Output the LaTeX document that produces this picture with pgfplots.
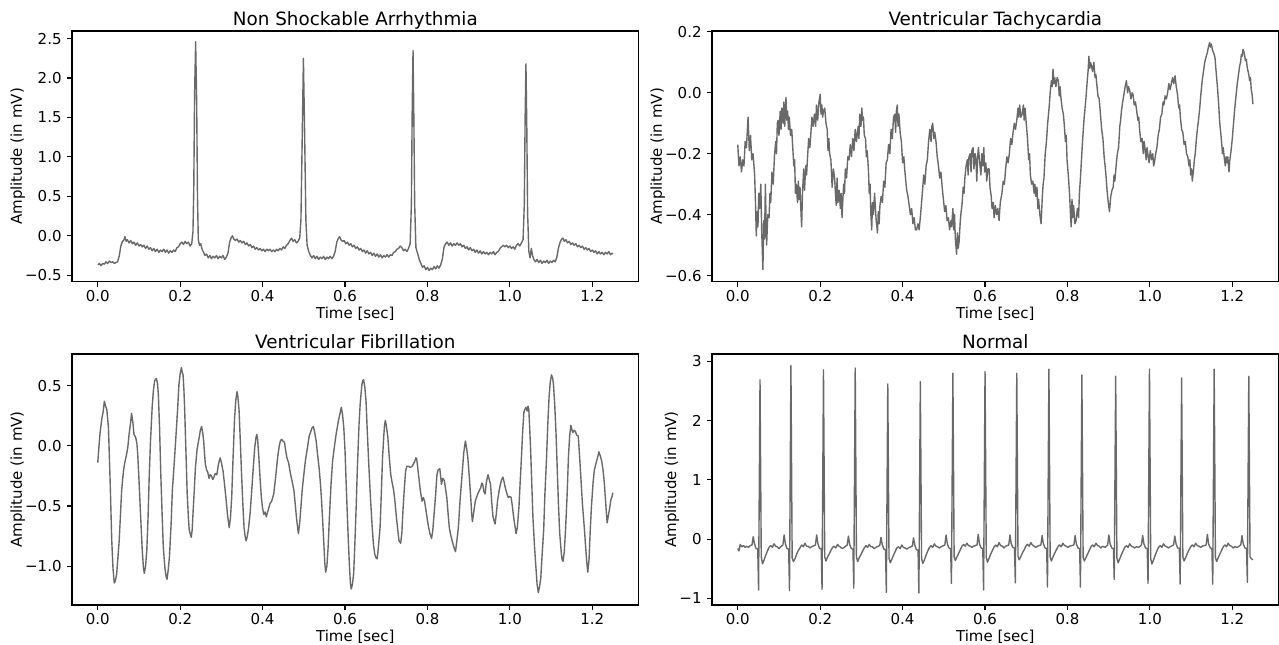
\documentclass[border=0pt]{standalone}
\usepackage{fontspec}
\setmainfont{DejaVu Sans}
\usepackage{pgfplots}
\pgfplotsset{compat=1.18}
\definecolor{sig}{HTML}{696969}

\pgfplotsset{
  ecg/.style={
    scale only axis, width=408pt, height=180.7pt,
    axis line style={line width=0.8pt},
    tick align=outside, tick pos=left,
    major tick length=3.5pt,
    every tick/.style={line width=0.8pt, black},
    tick label style={font=\fontsize{10.8}{13}\selectfont},
    xticklabel style={inner sep=0pt, yshift=-2.2pt},
    yticklabel style={inner sep=0pt, xshift=-3.8pt},
    label style={font=\fontsize{10.8}{13}\selectfont},
    xlabel style={inner sep=0pt, yshift=-3.8pt},
    ylabel style={inner sep=0pt},
    title style={font=\fontsize{13.2}{15}\selectfont, anchor=base, inner sep=0pt, yshift=-1.9pt},
    xmin=-0.0625, xmax=1.3125,
    xtick={0,0.2,0.4,0.6,0.8,1.0,1.2},
    xticklabels={0.0,0.2,0.4,0.6,0.8,1.0,1.2},
    xlabel={Time [sec]}, ylabel={Amplitude (in mV)},
  },
  sigline/.style={sig, line width=1pt, line join=round, mark=none},
}

\begin{document}
\begin{tikzpicture}
\useasboundingbox (-51.84pt,-28.08pt) rectangle (869.04pt,435.6pt);

% top left
\begin{axis}[ecg, at={(0pt,232.6pt)}, title={Non Shockable Arrhythmia},
  ymin=-0.585, ymax=2.597,
  ytick={-0.5,0,0.5,1,1.5,2,2.5},
  yticklabels={−0.5,0.0,0.5,1.0,1.5,2.0,2.5}]
\addplot[sigline] coordinates {
(0.000,-0.37)(0.004,-0.35)(0.008,-0.38)(0.012,-0.35)(0.016,-0.36)(0.020,-0.33)(0.024,-0.35)(0.028,-0.32)(0.032,-0.34)(0.036,-0.33)(0.040,-0.35)(0.044,-0.34)(0.048,-0.33)(0.052,-0.26)(0.056,-0.13)(0.060,-0.07)(0.063,-0.06)(0.066,-0.01)(0.069,-0.07)(0.072,-0.05)(0.076,-0.09)(0.080,-0.06)(0.084,-0.10)(0.088,-0.08)(0.092,-0.12)(0.096,-0.09)(0.100,-0.13)(0.104,-0.11)(0.108,-0.14)(0.112,-0.12)(0.116,-0.16)(0.120,-0.13)(0.124,-0.17)(0.128,-0.15)(0.132,-0.19)(0.136,-0.16)(0.140,-0.20)(0.144,-0.17)(0.148,-0.21)(0.152,-0.18)(0.156,-0.20)(0.160,-0.17)(0.164,-0.21)(0.168,-0.18)(0.172,-0.22)(0.176,-0.19)(0.180,-0.21)(0.184,-0.18)(0.188,-0.20)(0.192,-0.15)(0.196,-0.14)(0.200,-0.10)(0.204,-0.08)(0.208,-0.11)(0.212,-0.07)(0.216,-0.10)(0.220,-0.08)(0.224,-0.13)(0.228,-0.10)(0.231,0.05)(0.233,0.6)(0.235,1.8)(0.2375,2.46)(0.240,1.7)(0.242,0.5)(0.244,-0.05)(0.247,-0.12)(0.250,-0.10)(0.253,-0.17)(0.256,-0.20)(0.260,-0.25)(0.264,-0.23)(0.268,-0.28)(0.272,-0.25)(0.276,-0.29)(0.280,-0.26)(0.284,-0.28)(0.288,-0.25)(0.292,-0.29)(0.296,-0.26)(0.300,-0.28)(0.304,-0.25)(0.308,-0.30)(0.312,-0.27)(0.316,-0.22)(0.320,-0.08)(0.324,-0.02)(0.327,0.00)(0.330,-0.04)(0.334,-0.06)(0.338,-0.04)(0.342,-0.08)(0.346,-0.06)(0.350,-0.09)(0.354,-0.07)(0.358,-0.11)(0.362,-0.09)(0.366,-0.13)(0.370,-0.11)(0.374,-0.15)(0.378,-0.13)(0.382,-0.17)(0.386,-0.15)(0.390,-0.18)(0.394,-0.16)(0.398,-0.19)(0.402,-0.17)(0.406,-0.20)(0.410,-0.17)(0.414,-0.19)(0.418,-0.17)(0.422,-0.20)(0.426,-0.18)(0.430,-0.20)(0.434,-0.17)(0.438,-0.19)(0.442,-0.16)(0.446,-0.18)(0.450,-0.14)(0.454,-0.16)(0.458,-0.12)(0.462,-0.10)(0.466,-0.06)(0.470,-0.03)(0.474,-0.07)(0.478,-0.05)(0.482,-0.09)(0.486,-0.07)(0.490,-0.03)(0.493,0.2)(0.496,1.2)(0.499,2.25)(0.502,1.3)(0.505,0.2)(0.508,-0.12)(0.512,-0.20)(0.516,-0.25)(0.520,-0.28)(0.524,-0.25)(0.528,-0.29)(0.532,-0.26)(0.536,-0.30)(0.540,-0.27)(0.544,-0.29)(0.548,-0.26)(0.552,-0.30)(0.556,-0.27)(0.560,-0.29)(0.564,-0.26)(0.568,-0.29)(0.572,-0.26)(0.576,-0.20)(0.580,-0.08)(0.584,-0.03)(0.587,-0.01)(0.590,-0.05)(0.594,-0.07)(0.598,-0.06)(0.602,-0.10)(0.606,-0.08)(0.610,-0.12)(0.614,-0.10)(0.618,-0.14)(0.622,-0.12)(0.626,-0.16)(0.630,-0.14)(0.634,-0.18)(0.638,-0.16)(0.642,-0.20)(0.646,-0.18)(0.650,-0.22)(0.654,-0.19)(0.658,-0.23)(0.662,-0.21)(0.666,-0.25)(0.670,-0.22)(0.674,-0.26)(0.678,-0.23)(0.682,-0.27)(0.686,-0.24)(0.690,-0.28)(0.694,-0.25)(0.698,-0.27)(0.702,-0.24)(0.706,-0.27)(0.710,-0.24)(0.714,-0.25)(0.718,-0.21)(0.722,-0.20)(0.726,-0.17)(0.730,-0.16)(0.734,-0.13)(0.738,-0.15)(0.742,-0.19)(0.746,-0.17)(0.750,-0.20)(0.754,-0.16)(0.758,-0.10)(0.761,0.4)(0.763,1.6)(0.765,2.35)(0.767,1.5)(0.769,0.4)(0.772,-0.15)(0.776,-0.22)(0.780,-0.30)(0.784,-0.35)(0.788,-0.40)(0.792,-0.38)(0.796,-0.43)(0.800,-0.40)(0.804,-0.44)(0.808,-0.41)(0.812,-0.43)(0.816,-0.39)(0.820,-0.42)(0.824,-0.38)(0.828,-0.41)(0.832,-0.37)(0.836,-0.30)(0.840,-0.15)(0.844,-0.10)(0.848,-0.08)(0.852,-0.12)(0.856,-0.09)(0.860,-0.13)(0.864,-0.10)(0.868,-0.12)(0.872,-0.09)(0.876,-0.12)(0.880,-0.10)(0.884,-0.14)(0.888,-0.12)(0.892,-0.16)(0.896,-0.14)(0.900,-0.18)(0.904,-0.15)(0.908,-0.19)(0.912,-0.17)(0.916,-0.21)(0.920,-0.18)(0.924,-0.22)(0.928,-0.19)(0.932,-0.23)(0.936,-0.20)(0.940,-0.23)(0.944,-0.21)(0.948,-0.24)(0.952,-0.21)(0.956,-0.23)(0.960,-0.20)(0.964,-0.24)(0.968,-0.21)(0.972,-0.20)(0.976,-0.16)(0.980,-0.14)(0.984,-0.12)(0.988,-0.14)(0.992,-0.12)(0.996,-0.15)(1.000,-0.13)(1.004,-0.16)(1.008,-0.14)(1.012,-0.17)(1.016,-0.12)(1.020,-0.10)(1.024,-0.13)(1.028,-0.09)(1.032,-0.05)(1.035,0.4)(1.037,1.5)(1.039,2.18)(1.041,1.4)(1.043,0.3)(1.046,-0.20)(1.049,-0.28)(1.052,-0.16)(1.055,-0.25)(1.058,-0.30)(1.062,-0.33)(1.066,-0.30)(1.070,-0.34)(1.074,-0.31)(1.078,-0.35)(1.082,-0.32)(1.086,-0.34)(1.090,-0.31)(1.094,-0.35)(1.098,-0.32)(1.102,-0.34)(1.106,-0.31)(1.110,-0.33)(1.114,-0.27)(1.118,-0.15)(1.122,-0.08)(1.126,-0.04)(1.129,-0.03)(1.132,-0.07)(1.136,-0.05)(1.140,-0.09)(1.144,-0.07)(1.148,-0.11)(1.152,-0.09)(1.156,-0.12)(1.160,-0.10)(1.164,-0.14)(1.168,-0.12)(1.172,-0.15)(1.176,-0.13)(1.180,-0.17)(1.184,-0.15)(1.188,-0.18)(1.192,-0.16)(1.196,-0.20)(1.200,-0.18)(1.204,-0.21)(1.208,-0.19)(1.212,-0.23)(1.216,-0.20)(1.220,-0.23)(1.224,-0.21)(1.228,-0.24)(1.232,-0.21)(1.236,-0.23)(1.240,-0.20)(1.244,-0.24)(1.248,-0.22)(1.250,-0.23)
};
\end{axis}

% top right
\begin{axis}[ecg, at={(460.8pt,232.6pt)}, title={Ventricular Tachycardia},
  ymin=-0.621, ymax=0.203,
  ytick={-0.6,-0.4,-0.2,0,0.2},
  yticklabels={−0.6,−0.4,−0.2,0.0,0.2}]
\addplot[sigline] coordinates {
(0.000,-0.17)(0.003,-0.24)(0.006,-0.21)(0.009,-0.26)(0.012,-0.22)(0.015,-0.24)(0.018,-0.16)(0.021,-0.18)(0.025,-0.08)(0.028,-0.19)(0.031,-0.14)(0.034,-0.22)(0.037,-0.20)(0.041,-0.27)(0.043,-0.36)(0.045,-0.47)(0.047,-0.39)(0.049,-0.44)(0.051,-0.33)(0.053,-0.38)(0.056,-0.30)(0.058,-0.45)(0.061,-0.58)(0.063,-0.42)(0.065,-0.48)(0.067,-0.30)(0.070,-0.50)(0.073,-0.40)(0.076,-0.41)(0.078,-0.33)(0.080,-0.36)(0.083,-0.26)(0.086,-0.30)(0.089,-0.21)(0.092,-0.16)(0.094,-0.20)(0.096,-0.10)(0.098,-0.09)(0.100,-0.14)(0.103,-0.06)(0.105,-0.12)(0.107,-0.05)(0.110,-0.10)(0.112,-0.03)(0.114,-0.11)(0.117,-0.015)(0.119,-0.09)(0.121,-0.06)(0.123,-0.12)(0.125,-0.08)(0.128,-0.14)(0.131,-0.12)(0.133,-0.17)(0.136,-0.24)(0.138,-0.22)(0.140,-0.33)(0.142,-0.30)(0.145,-0.36)(0.147,-0.29)(0.149,-0.35)(0.151,-0.31)(0.153,-0.38)(0.155,-0.44)(0.157,-0.33)(0.160,-0.25)(0.162,-0.32)(0.165,-0.24)(0.167,-0.27)(0.169,-0.22)(0.172,-0.15)(0.175,-0.18)(0.178,-0.12)(0.180,-0.08)(0.183,-0.11)(0.186,-0.07)(0.189,-0.11)(0.191,-0.04)(0.194,-0.09)(0.197,-0.03)(0.200,-0.005)(0.202,-0.07)(0.204,-0.04)(0.206,-0.08)(0.208,-0.06)(0.211,-0.05)(0.214,-0.10)(0.217,-0.12)(0.219,-0.19)(0.221,-0.15)(0.223,-0.20)(0.226,-0.22)(0.229,-0.31)(0.232,-0.25)(0.235,-0.28)(0.237,-0.33)(0.239,-0.37)(0.241,-0.28)(0.243,-0.36)(0.246,-0.32)(0.249,-0.38)(0.251,-0.33)(0.253,-0.41)(0.255,-0.35)(0.257,-0.30)(0.259,-0.33)(0.261,-0.25)(0.264,-0.28)(0.267,-0.21)(0.270,-0.22)(0.273,-0.17)(0.276,-0.21)(0.279,-0.15)(0.282,-0.19)(0.285,-0.12)(0.288,-0.16)(0.292,-0.11)(0.294,-0.15)(0.296,-0.07)(0.299,-0.11)(0.301,-0.05)(0.303,-0.09)(0.305,-0.08)(0.307,-0.14)(0.310,-0.15)(0.312,-0.21)(0.314,-0.19)(0.317,-0.25)(0.319,-0.33)(0.321,-0.30)(0.323,-0.40)(0.325,-0.45)(0.327,-0.36)(0.329,-0.40)(0.332,-0.33)(0.334,-0.38)(0.336,-0.42)(0.339,-0.46)(0.341,-0.39)(0.343,-0.43)(0.345,-0.37)(0.348,-0.34)(0.351,-0.36)(0.354,-0.29)(0.357,-0.31)(0.360,-0.23)(0.363,-0.22)(0.366,-0.17)(0.369,-0.20)(0.372,-0.12)(0.375,-0.15)(0.378,-0.08)(0.381,-0.07)(0.383,-0.13)(0.385,-0.06)(0.387,-0.04)(0.389,-0.11)(0.391,-0.07)(0.394,-0.13)(0.397,-0.16)(0.400,-0.23)(0.403,-0.21)(0.405,-0.25)(0.407,-0.28)(0.410,-0.32)(0.413,-0.34)(0.416,-0.37)(0.419,-0.40)(0.422,-0.38)(0.425,-0.43)(0.428,-0.41)(0.431,-0.45)(0.434,-0.45)(0.437,-0.43)(0.440,-0.45)(0.443,-0.41)(0.446,-0.36)(0.449,-0.31)(0.451,-0.27)(0.454,-0.30)(0.457,-0.24)(0.460,-0.22)(0.463,-0.16)(0.466,-0.12)(0.469,-0.16)(0.471,-0.11)(0.473,-0.10)(0.476,-0.15)(0.478,-0.13)(0.481,-0.16)(0.484,-0.21)(0.487,-0.24)(0.490,-0.28)(0.493,-0.26)(0.496,-0.31)(0.499,-0.35)(0.502,-0.39)(0.505,-0.37)(0.508,-0.42)(0.511,-0.41)(0.514,-0.45)(0.517,-0.42)(0.519,-0.44)(0.522,-0.38)(0.524,-0.45)(0.526,-0.40)(0.528,-0.48)(0.531,-0.53)(0.533,-0.46)(0.535,-0.51)(0.537,-0.49)(0.540,-0.42)(0.542,-0.39)(0.544,-0.37)(0.547,-0.31)(0.549,-0.33)(0.551,-0.28)(0.554,-0.24)(0.557,-0.22)(0.559,-0.27)(0.561,-0.21)(0.564,-0.20)(0.566,-0.26)(0.568,-0.19)(0.571,-0.18)(0.573,-0.25)(0.576,-0.20)(0.578,-0.22)(0.580,-0.29)(0.582,-0.21)(0.584,-0.18)(0.587,-0.23)(0.590,-0.27)(0.592,-0.20)(0.594,-0.24)(0.597,-0.18)(0.599,-0.26)(0.602,-0.23)(0.604,-0.29)(0.607,-0.25)(0.610,-0.25)(0.612,-0.31)(0.615,-0.34)(0.617,-0.38)(0.620,-0.36)(0.622,-0.41)(0.625,-0.37)(0.628,-0.40)(0.631,-0.38)(0.634,-0.42)(0.637,-0.36)(0.641,-0.33)(0.644,-0.29)(0.647,-0.30)(0.650,-0.25)(0.653,-0.21)(0.656,-0.23)(0.659,-0.20)(0.662,-0.15)(0.665,-0.17)(0.668,-0.13)(0.671,-0.10)(0.674,-0.12)(0.677,-0.09)(0.680,-0.05)(0.682,-0.08)(0.684,-0.04)(0.687,-0.08)(0.690,-0.07)(0.693,-0.04)(0.695,-0.09)(0.697,-0.05)(0.700,-0.10)(0.703,-0.15)(0.706,-0.22)(0.708,-0.20)(0.710,-0.27)(0.713,-0.30)(0.716,-0.29)(0.719,-0.33)(0.721,-0.30)(0.723,-0.34)(0.726,-0.31)(0.728,-0.38)(0.730,-0.35)(0.733,-0.40)(0.736,-0.43)(0.739,-0.34)(0.741,-0.30)(0.743,-0.28)(0.746,-0.20)(0.749,-0.16)(0.752,-0.10)(0.754,-0.07)(0.756,-0.04)(0.758,0.00)(0.761,0.04)(0.763,0.02)(0.765,0.078)(0.767,0.03)(0.769,0.05)(0.772,0.02)(0.775,0.05)(0.778,0.04)(0.780,-0.01)(0.782,0.02)(0.784,-0.015)(0.787,-0.05)(0.790,-0.07)(0.792,-0.10)(0.795,-0.16)(0.797,-0.14)(0.799,-0.22)(0.802,-0.27)(0.805,-0.33)(0.807,-0.39)(0.809,-0.44)(0.811,-0.35)(0.813,-0.41)(0.815,-0.37)(0.818,-0.43)(0.821,-0.42)(0.824,-0.38)(0.827,-0.41)(0.829,-0.33)(0.831,-0.29)(0.834,-0.22)(0.837,-0.15)(0.840,-0.09)(0.842,-0.06)(0.845,-0.015)(0.848,0.04)(0.850,0.07)(0.852,0.12)(0.854,0.08)(0.856,0.10)(0.858,0.09)(0.861,0.07)(0.864,0.10)(0.867,0.05)(0.869,0.06)(0.871,0.03)(0.874,-0.01)(0.877,-0.02)(0.880,-0.07)(0.883,-0.12)(0.886,-0.15)(0.889,-0.21)(0.892,-0.25)(0.894,-0.28)(0.896,-0.32)(0.899,-0.36)(0.902,-0.39)(0.905,-0.34)(0.908,-0.32)(0.911,-0.31)(0.913,-0.27)(0.915,-0.29)(0.918,-0.24)(0.921,-0.20)(0.924,-0.18)(0.927,-0.11)(0.929,-0.09)(0.931,-0.06)(0.934,-0.03)(0.937,-0.005)(0.940,0.02)(0.943,0.04)(0.946,0.00)(0.948,0.02)(0.951,0.008)(0.954,-0.02)(0.957,0.00)(0.959,-0.005)(0.962,-0.04)(0.965,-0.03)(0.968,-0.06)(0.971,-0.09)(0.973,-0.08)(0.975,-0.12)(0.978,-0.16)(0.981,-0.15)(0.984,-0.20)(0.986,-0.16)(0.988,-0.18)(0.991,-0.22)(0.993,-0.18)(0.995,-0.20)(0.998,-0.23)(1.001,-0.19)(1.004,-0.22)(1.007,-0.20)(1.009,-0.24)(1.011,-0.23)(1.014,-0.20)(1.017,-0.18)(1.020,-0.14)(1.023,-0.12)(1.026,-0.08)(1.029,-0.07)(1.032,-0.03)(1.034,-0.04)(1.037,-0.01)(1.040,-0.02)(1.043,0.00)(1.046,0.03)(1.049,0.01)(1.052,0.03)(1.055,0.05)(1.058,0.03)(1.061,0.056)(1.064,0.02)(1.067,-0.005)(1.070,-0.05)(1.072,-0.04)(1.074,-0.08)(1.077,-0.12)(1.080,-0.13)(1.083,-0.17)(1.086,-0.16)(1.089,-0.20)(1.092,-0.21)(1.095,-0.24)(1.097,-0.22)(1.099,-0.27)(1.101,-0.25)(1.103,-0.29)(1.106,-0.25)(1.108,-0.22)(1.110,-0.20)(1.113,-0.15)(1.116,-0.11)(1.118,-0.09)(1.121,-0.05)(1.124,0.00)(1.127,0.04)(1.130,0.07)(1.133,0.10)(1.136,0.116)(1.139,0.13)(1.142,0.15)(1.145,0.165)(1.147,0.15)(1.149,0.16)(1.152,0.14)(1.155,0.13)(1.158,0.116)(1.160,0.08)(1.162,0.05)(1.164,0.018)(1.167,-0.04)(1.169,-0.09)(1.171,-0.12)(1.174,-0.16)(1.176,-0.20)(1.178,-0.18)(1.181,-0.22)(1.183,-0.24)(1.185,-0.21)(1.187,-0.23)(1.189,-0.21)(1.192,-0.26)(1.194,-0.22)(1.197,-0.19)(1.200,-0.15)(1.203,-0.10)(1.206,-0.05)(1.209,-0.01)(1.212,0.03)(1.215,0.06)(1.218,0.09)(1.220,0.10)(1.222,0.126)(1.224,0.12)(1.226,0.143)(1.229,0.13)(1.232,0.105)(1.234,0.11)(1.236,0.085)(1.238,0.072)(1.240,0.06)(1.242,0.04)(1.244,0.05)(1.246,0.01)(1.248,-0.005)(1.250,-0.037)
};
\end{axis}

% bottom left
\begin{axis}[ecg, at={(0pt,0pt)}, title={Ventricular Fibrillation},
  ymin=-1.323, ymax=0.763,
  ytick={-1,-0.5,0,0.5},
  yticklabels={−1.0,−0.5,0.0,0.5}]
\addplot[sigline] coordinates {
(0.000,-0.14)(0.003,0.00)(0.006,0.12)(0.010,0.23)(0.013,0.28)(0.016,0.37)(0.019,0.33)(0.022,0.30)(0.026,0.15)(0.030,-0.29)(0.034,-0.79)(0.037,-1.02)(0.040,-1.14)(0.043,-1.12)(0.046,-1.06)(0.052,-0.79)(0.058,-0.37)(0.062,-0.22)(0.065,-0.15)(0.070,-0.07)(0.073,-0.01)(0.076,0.095)(0.080,0.20)(0.082,0.27)(0.085,0.20)(0.088,0.095)(0.092,0.07)(0.095,0.02)(0.097,-0.07)(0.100,-0.28)(0.103,-0.51)(0.108,-0.87)(0.111,-1.02)(0.113,-1.06)(0.116,-1.00)(0.119,-0.87)(0.122,-0.60)(0.125,-0.24)(0.128,0.04)(0.132,0.32)(0.135,0.46)(0.138,0.54)(0.142,0.56)(0.145,0.52)(0.147,0.43)(0.150,0.15)(0.153,-0.24)(0.156,-0.55)(0.159,-0.84)(0.163,-1.02)(0.166,-1.09)(0.168,-1.11)(0.171,-1.03)(0.174,-0.92)(0.178,-0.65)(0.181,-0.37)(0.186,-0.12)(0.190,0.095)(0.194,0.32)(0.197,0.51)(0.200,0.60)(0.203,0.65)(0.205,0.61)(0.207,0.59)(0.209,0.47)(0.211,0.29)(0.214,-0.05)(0.217,-0.40)(0.220,-0.60)(0.222,-0.70)(0.225,-0.74)(0.227,-0.76)(0.229,-0.70)(0.231,-0.57)(0.234,-0.38)(0.237,-0.18)(0.241,-0.03)(0.246,0.067)(0.249,0.13)(0.252,0.16)(0.255,0.10)(0.257,0.04)(0.259,-0.06)(0.261,-0.15)(0.264,-0.20)(0.267,-0.22)(0.270,-0.27)(0.273,-0.24)(0.276,-0.25)(0.279,-0.28)(0.282,-0.26)(0.285,-0.23)(0.289,-0.24)(0.293,-0.15)(0.297,-0.10)(0.300,-0.14)(0.304,-0.21)(0.307,-0.30)(0.311,-0.43)(0.315,-0.58)(0.319,-0.68)(0.322,-0.60)(0.325,-0.43)(0.328,-0.13)(0.332,0.23)(0.335,0.38)(0.338,0.45)(0.340,0.41)(0.343,0.29)(0.346,0.03)(0.349,-0.24)(0.352,-0.48)(0.355,-0.68)(0.358,-0.76)(0.360,-0.79)(0.363,-0.75)(0.366,-0.68)(0.370,-0.55)(0.373,-0.40)(0.377,-0.20)(0.381,-0.01)(0.384,0.07)(0.386,0.095)(0.388,0.05)(0.391,-0.10)(0.394,-0.28)(0.397,-0.43)(0.400,-0.52)(0.403,-0.57)(0.406,-0.55)(0.409,-0.59)(0.413,-0.54)(0.418,-0.48)(0.422,-0.46)(0.427,-0.40)(0.431,-0.28)(0.434,-0.18)(0.437,-0.08)(0.440,-0.01)(0.443,0.04)(0.446,0.055)(0.449,0.04)(0.453,0.03)(0.456,-0.04)(0.459,-0.10)(0.463,-0.14)(0.468,-0.24)(0.472,-0.30)(0.476,-0.37)(0.479,-0.48)(0.482,-0.59)(0.485,-0.68)(0.487,-0.73)(0.490,-0.64)(0.493,-0.51)(0.496,-0.37)(0.500,-0.24)(0.504,-0.12)(0.509,-0.01)(0.513,0.08)(0.517,0.12)(0.520,0.15)(0.523,0.16)(0.526,0.12)(0.530,0.04)(0.533,-0.06)(0.537,-0.18)(0.540,-0.30)(0.543,-0.45)(0.546,-0.64)(0.549,-0.84)(0.551,-0.98)(0.553,-1.05)(0.556,-1.00)(0.559,-0.84)(0.562,-0.60)(0.566,-0.32)(0.570,-0.12)(0.575,0.014)(0.579,0.11)(0.584,0.21)(0.588,0.27)(0.591,0.32)(0.594,0.26)(0.597,0.15)(0.600,-0.04)(0.602,-0.24)(0.605,-0.52)(0.608,-0.79)(0.611,-1.02)(0.613,-1.14)(0.615,-1.19)(0.618,-1.15)(0.621,-1.06)(0.624,-0.80)(0.627,-0.51)(0.630,-0.18)(0.634,0.18)(0.637,0.36)(0.641,0.51)(0.643,0.54)(0.645,0.55)(0.648,0.49)(0.651,0.37)(0.654,0.12)(0.658,-0.18)(0.662,-0.45)(0.666,-0.68)(0.669,-0.82)(0.672,-0.90)(0.675,-0.93)(0.678,-0.94)(0.681,-0.84)(0.685,-0.68)(0.688,-0.40)(0.691,-0.10)(0.694,0.08)(0.696,0.18)(0.698,0.21)(0.700,0.17)(0.702,0.12)(0.704,0.07)(0.707,-0.08)(0.711,-0.24)(0.714,-0.30)(0.718,-0.37)(0.721,-0.46)(0.724,-0.57)(0.728,-0.70)(0.731,-0.79)(0.735,-0.81)(0.738,-0.72)(0.741,-0.51)(0.744,-0.35)(0.747,-0.21)(0.750,-0.17)(0.754,-0.17)(0.758,-0.18)(0.763,-0.17)(0.766,-0.15)(0.769,-0.13)(0.772,-0.10)(0.774,-0.11)(0.777,-0.20)(0.780,-0.29)(0.783,-0.38)(0.787,-0.46)(0.790,-0.43)(0.793,-0.46)(0.797,-0.55)(0.800,-0.62)(0.803,-0.68)(0.806,-0.73)(0.810,-0.77)(0.813,-0.70)(0.816,-0.57)(0.820,-0.40)(0.823,-0.24)(0.826,-0.20)(0.830,-0.19)(0.834,-0.32)(0.837,-0.27)(0.841,-0.29)(0.844,-0.36)(0.847,-0.43)(0.850,-0.56)(0.853,-0.68)(0.857,-0.75)(0.860,-0.79)(0.864,-0.84)(0.868,-0.88)(0.871,-0.80)(0.875,-0.68)(0.879,-0.46)(0.884,-0.24)(0.888,-0.06)(0.892,0.04)(0.895,-0.02)(0.898,-0.10)(0.902,-0.28)(0.905,-0.43)(0.907,-0.55)(0.909,-0.63)(0.912,-0.56)(0.916,-0.46)(0.919,-0.43)(0.922,-0.40)(0.926,-0.37)(0.929,-0.35)(0.932,-0.31)(0.934,-0.32)(0.937,-0.38)(0.940,-0.40)(0.943,-0.30)(0.947,-0.24)(0.950,-0.28)(0.953,-0.32)(0.956,-0.47)(0.959,-0.59)(0.964,-0.65)(0.967,-0.57)(0.970,-0.46)(0.974,-0.37)(0.977,-0.32)(0.980,-0.28)(0.983,-0.26)(0.986,-0.30)(0.989,-0.35)(0.993,-0.40)(0.996,-0.43)(1.000,-0.42)(1.003,-0.43)(1.006,-0.50)(1.009,-0.59)(1.012,-0.66)(1.015,-0.73)(1.018,-0.68)(1.022,-0.51)(1.025,-0.30)(1.028,-0.10)(1.031,0.12)(1.034,0.28)(1.036,0.30)(1.039,0.32)(1.042,0.29)(1.044,0.33)(1.046,0.30)(1.048,0.15)(1.050,0.00)(1.053,-0.30)(1.056,-0.60)(1.060,-0.85)(1.063,-1.00)(1.066,-1.15)(1.069,-1.22)(1.072,-1.17)(1.075,-1.10)(1.078,-0.92)(1.082,-0.70)(1.085,-0.40)(1.089,-0.10)(1.092,0.18)(1.095,0.40)(1.098,0.53)(1.101,0.59)(1.104,0.56)(1.106,0.50)(1.109,0.33)(1.112,0.10)(1.115,-0.20)(1.118,-0.50)(1.121,-0.73)(1.125,-0.90)(1.127,-0.95)(1.129,-0.96)(1.132,-0.88)(1.135,-0.70)(1.139,-0.40)(1.142,-0.10)(1.145,0.08)(1.148,0.17)(1.151,0.13)(1.153,0.11)(1.156,0.13)(1.159,0.12)(1.162,0.09)(1.166,0.08)(1.169,-0.08)(1.172,-0.25)(1.176,-0.48)(1.181,-0.70)(1.184,-0.85)(1.187,-0.98)(1.189,-1.05)(1.192,-0.95)(1.195,-0.70)(1.198,-0.50)(1.202,-0.30)(1.205,-0.20)(1.208,-0.16)(1.211,-0.12)(1.214,-0.08)(1.216,-0.05)(1.218,-0.07)(1.220,-0.09)(1.223,-0.13)(1.226,-0.20)(1.229,-0.30)(1.231,-0.40)(1.234,-0.55)(1.236,-0.64)(1.239,-0.58)(1.242,-0.52)(1.245,-0.45)(1.248,-0.42)(1.250,-0.39)
};
\end{axis}

% bottom right
\begin{axis}[ecg, at={(460.8pt,0pt)}, title={Normal},
  ymin=-1.113, ymax=3.125,
  ytick={-1,0,1,2,3},
  yticklabels={−1,0,1,2,3}]
\addplot[sigline] coordinates {
(0.000,-0.16)(0.003,-0.20)(0.006,-0.09)(0.010,-0.13)(0.014,-0.11)(0.018,-0.14)(0.022,-0.12)(0.026,-0.14)(0.030,-0.11)(0.0345,-0.10)(0.0375,0.04)(0.0405,-0.08)(0.0445,-0.16)(0.0485,-0.17)(0.0505,-0.86)(0.054,2.69)
(0.057,-0.30)(0.060,-0.42)(0.064,-0.35)(0.068,-0.27)(0.072,-0.20)(0.076,-0.14)(0.080,-0.11)(0.084,-0.14)(0.088,-0.08)(0.092,-0.12)(0.096,-0.13)(0.100,-0.16)(0.104,-0.13)
(0.1095,-0.10)(0.1125,0.07)(0.1155,-0.08)(0.1195,-0.16)(0.1235,-0.17)(0.1255,-0.87)(0.129,2.93)
(0.132,-0.32)(0.135,-0.38)(0.139,-0.33)(0.143,-0.25)(0.147,-0.19)(0.151,-0.15)(0.155,-0.10)(0.159,-0.13)(0.163,-0.07)(0.167,-0.12)(0.171,-0.12)(0.175,-0.15)(0.179,-0.13)
(0.1885,-0.10)(0.1915,0.07)(0.1945,-0.08)(0.1985,-0.16)(0.2025,-0.16)(0.2045,-0.85)(0.208,2.86)
(0.211,-0.30)(0.214,-0.37)(0.218,-0.30)(0.222,-0.25)(0.226,-0.19)(0.230,-0.14)(0.234,-0.12)(0.238,-0.15)(0.242,-0.09)(0.246,-0.12)(0.250,-0.14)(0.254,-0.16)(0.258,-0.14)
(0.2655,-0.10)(0.2685,0.05)(0.2715,-0.09)(0.2755,-0.16)(0.2795,-0.17)(0.2815,-0.83)(0.285,2.89)
(0.288,-0.30)(0.291,-0.38)(0.295,-0.31)(0.299,-0.26)(0.303,-0.20)(0.307,-0.15)(0.311,-0.11)(0.315,-0.14)(0.319,-0.09)(0.323,-0.13)(0.327,-0.13)(0.331,-0.16)(0.335,-0.14)
(0.3445,-0.11)(0.3475,0.03)(0.3505,-0.09)(0.3545,-0.17)(0.3585,-0.18)(0.3605,-0.90)(0.364,2.62)
(0.367,-0.32)(0.370,-0.40)(0.374,-0.34)(0.378,-0.27)(0.382,-0.21)(0.386,-0.15)(0.390,-0.13)(0.394,-0.16)(0.398,-0.10)(0.402,-0.14)(0.406,-0.15)(0.410,-0.17)(0.414,-0.15)
(0.4235,-0.12)(0.4265,0.02)(0.4295,-0.10)(0.4335,-0.18)(0.4375,-0.19)(0.4395,-0.91)(0.443,2.66)
(0.446,-0.33)(0.449,-0.41)(0.453,-0.35)(0.457,-0.27)(0.461,-0.20)(0.465,-0.14)(0.469,-0.11)(0.473,-0.14)(0.477,-0.08)(0.481,-0.12)(0.485,-0.13)(0.489,-0.15)(0.493,-0.13)
(0.5025,-0.10)(0.5055,0.07)(0.5085,-0.08)(0.5125,-0.15)(0.5165,-0.16)(0.5185,-0.75)(0.522,2.80)
(0.525,-0.30)(0.528,-0.36)(0.532,-0.30)(0.536,-0.24)(0.540,-0.18)(0.544,-0.12)(0.548,-0.09)(0.552,-0.12)(0.556,-0.07)(0.560,-0.11)(0.564,-0.12)(0.568,-0.14)(0.572,-0.12)
(0.5805,-0.10)(0.5835,0.08)(0.5865,-0.08)(0.5905,-0.15)(0.5945,-0.16)(0.5965,-0.86)(0.600,2.83)
(0.603,-0.31)(0.606,-0.39)(0.610,-0.32)(0.614,-0.25)(0.618,-0.19)(0.622,-0.13)(0.626,-0.10)(0.630,-0.13)(0.634,-0.06)(0.638,-0.11)(0.642,-0.12)(0.646,-0.15)(0.650,-0.12)
(0.6575,-0.10)(0.6605,0.07)(0.6635,-0.08)(0.6675,-0.14)(0.6715,-0.15)(0.6735,-0.74)(0.677,2.80)
(0.680,-0.29)(0.683,-0.35)(0.687,-0.29)(0.691,-0.23)(0.695,-0.18)(0.699,-0.12)(0.703,-0.09)(0.707,-0.12)(0.711,-0.06)(0.715,-0.10)(0.719,-0.12)(0.723,-0.14)(0.727,-0.12)
(0.7355,-0.10)(0.7385,0.06)(0.7415,-0.08)(0.7455,-0.15)(0.7495,-0.16)(0.7515,-0.81)(0.755,2.87)
(0.758,-0.30)(0.761,-0.37)(0.765,-0.30)(0.769,-0.24)(0.773,-0.18)(0.777,-0.13)(0.781,-0.10)(0.785,-0.13)(0.789,-0.07)(0.793,-0.11)(0.797,-0.12)(0.801,-0.14)(0.805,-0.12)
(0.8155,-0.10)(0.8185,0.06)(0.8215,-0.08)(0.8255,-0.15)(0.8295,-0.16)(0.8315,-0.81)(0.835,2.77)
(0.838,-0.31)(0.841,-0.37)(0.845,-0.31)(0.849,-0.25)(0.853,-0.19)(0.857,-0.13)(0.861,-0.10)(0.865,-0.13)(0.869,-0.07)(0.873,-0.11)(0.877,-0.12)(0.881,-0.15)(0.885,-0.12)(0.891,-0.14)
(0.8975,-0.10)(0.9005,0.07)(0.9035,-0.08)(0.9075,-0.15)(0.9115,-0.16)(0.9135,-0.68)(0.917,2.75)
(0.920,-0.32)(0.923,-0.40)(0.927,-0.33)(0.931,-0.26)(0.935,-0.20)(0.939,-0.14)(0.943,-0.11)(0.947,-0.14)(0.951,-0.08)(0.955,-0.12)(0.959,-0.13)(0.963,-0.15)(0.967,-0.13)(0.973,-0.14)
(0.9795,-0.10)(0.9825,0.06)(0.9855,-0.08)(0.9895,-0.15)(0.9935,-0.16)(0.9955,-0.75)(0.999,2.87)
(1.002,-0.33)(1.005,-0.42)(1.009,-0.35)(1.013,-0.27)(1.017,-0.20)(1.021,-0.14)(1.025,-0.11)(1.029,-0.14)(1.033,-0.08)(1.037,-0.12)(1.041,-0.13)(1.045,-0.15)(1.049,-0.13)
(1.0575,-0.10)(1.0605,0.05)(1.0635,-0.08)(1.0675,-0.15)(1.0715,-0.16)(1.0735,-0.76)(1.077,2.72)
(1.080,-0.30)(1.083,-0.37)(1.087,-0.31)(1.091,-0.24)(1.095,-0.18)(1.099,-0.13)(1.103,-0.10)(1.107,-0.13)(1.111,-0.07)(1.115,-0.11)(1.119,-0.12)(1.123,-0.14)(1.127,-0.12)
(1.1365,-0.10)(1.1395,0.08)(1.1425,-0.08)(1.1465,-0.15)(1.1505,-0.16)(1.1525,-0.76)(1.156,2.87)
(1.159,-0.31)(1.162,-0.38)(1.166,-0.31)(1.170,-0.25)(1.174,-0.19)(1.178,-0.13)(1.182,-0.10)(1.186,-0.13)(1.190,-0.07)(1.194,-0.11)(1.198,-0.12)(1.202,-0.15)(1.206,-0.13)(1.212,-0.14)
(1.2205,-0.10)(1.2235,0.06)(1.2265,-0.08)(1.2305,-0.15)(1.2345,-0.16)(1.2365,-0.73)(1.240,2.75)
(1.243,-0.30)(1.246,-0.33)(1.250,-0.35)
};
\end{axis}
\end{tikzpicture}
\end{document}
